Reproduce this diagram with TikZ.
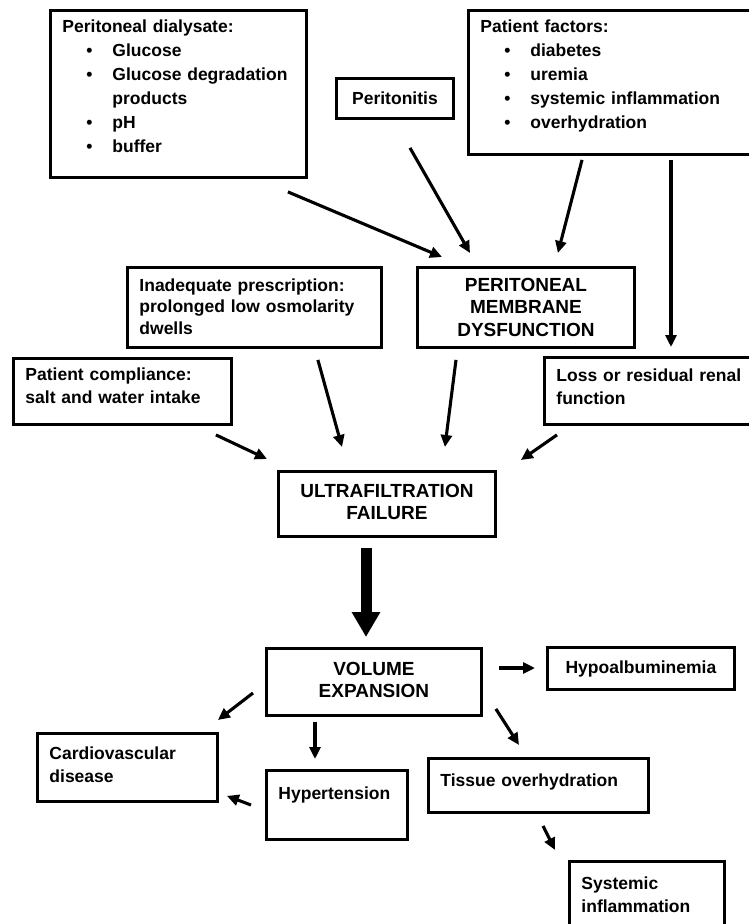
\documentclass[tikz,border=0pt]{standalone}
\usepackage{fontspec}
\usepackage{tikz}
\usetikzlibrary{arrows.meta}
\setmainfont{Liberation Sans}
\newcommand{\lowfont}{\fontsize{17.5}{23}\selectfont\bfseries}
\newcommand{\listfont}{\fontsize{17.5}{24}\selectfont\bfseries}
\newcommand{\capfont}{\fontsize{19}{22.5}\selectfont\bfseries}
\newcommand{\itm}[1]{\hspace*{24pt}\makebox[26pt][l]{\textbullet}#1}

\tikzset{
    box/.style={draw, line width=2.9pt, anchor=north west, inner xsep=12pt, inner ysep=0pt, align=left, font=\lowfont},
    capbox/.style={box, align=center, font=\capfont},
    dims/.style n args={3}{text width=#1, text height=#2, text depth=#3},
    arr/.style={-{Triangle[length=12pt,width=11pt]}, line width=3.1pt},
    bigarr/.style={-{Triangle[length=25pt,width=27pt]}, line width=11pt}
}

\begin{document}
\begin{tikzpicture}[x=1pt,y=-1pt]
    \useasboundingbox (0,0) rectangle (749,924);
    \clip (0,0) rectangle (749,924);

    % Causes
    \node[box, font=\listfont, dims={232pt}{22pt}{145pt}] (dia) at (49,9)
        {Peritoneal dialysate:\\ \itm{Glucose}\\ \itm{Glucose degradation}\\ \hspace*{50pt}products\\ \itm{pH}\\ \itm{buffer}};
    \node[box, align=center, dims={93pt}{26pt}{14pt}] (peri) at (335,77) {Peritonitis};
    \node[box, font=\listfont, dims={276pt}{22pt}{122pt}] (fac) at (467,9)
        {Patient factors:\\ \itm{diabetes}\\ \itm{uremia}\\ \itm{systemic inflammation}\\ \itm{overhydration}};
    \node[box, font=\fontsize{17.5}{21.5}\selectfont\bfseries, dims={230pt}{24pt}{56pt}] (inad) at (126,266)
        {Inadequate prescription:\\ prolonged low osmolarity\\ dwells};
    \node[capbox, dims={193pt}{24pt}{56pt}] (mem) at (416,266) {PERITONEAL\\ MEMBRANE\\ DYSFUNCTION};
    \node[box, dims={194pt}{22pt}{44pt}] (comp) at (12,357) {Patient compliance:\\ salt and water intake};
    \node[box, dims={196pt}{24pt}{43pt}] (loss) at (543,356) {Loss or residual renal\\ function};

    % Central chain
    \node[capbox, dims={193pt}{26pt}{39pt}] (ultra) at (277,470) {ULTRAFILTRATION\\ FAILURE};
    \node[capbox, dims={191pt}{27pt}{40pt}] (vol) at (265,647) {VOLUME\\ EXPANSION};

    % Consequences
    \node[box, align=center, dims={163pt}{26pt}{16pt}] (hypo) at (546,646) {Hypoalbuminemia};
    \node[box, dims={156pt}{26pt}{42pt}] (cardio) at (36,732) {Cardiovascular\\ disease};
    \node[box, dims={117pt}{29pt}{40pt}] (hyper) at (265,769) {Hypertension};
    \node[box, dims={196pt}{28pt}{26pt}] (tissue) at (427,757) {Tissue overhydration};
    \node[box, dims={131pt}{28pt}{62pt}] (sys) at (568,860) {Systemic\\ inflammation};

    % Arrows into the membrane
    \draw[arr] ([shift={(-20,13)}]dia.south east) -- ([shift={(26,-9)}]mem.north west);
    \draw[arr] ([shift={(75,28)}]peri.south west) -- ([shift={(54,-13)}]mem.north west);
    \draw[arr] ([shift={(115,4)}]fac.south west) -- ([shift={(-78,-13)}]mem.north east);
    \draw[arr] ([shift={(204,4)}]fac.south west) -- ([shift={(128,-9)}]loss.north west);

    % Arrows into ultrafiltration failure
    \draw[arr] ([shift={(-17,9)}]comp.south east) -- ([shift={(-10,-11)}]ultra.north west);
    \draw[arr] ([shift={(-65,11)}]inad.south east) -- ([shift={(65,-23)}]ultra.north west);
    \draw[arr] ([shift={(40,11)}]mem.south west) -- ([shift={(-52,-23)}]ultra.north east);
    \draw[arr] ([shift={(14,9)}]loss.south west) -- ([shift={(24,-10)}]ultra.north east);
    \draw[bigarr] ([shift={(89,10)}]ultra.south west) -- ([shift={(101,-10)}]vol.north west);

    % Arrows out of volume expansion
    \draw[arr] ([shift={(16,21)}]vol.north east) -- ([shift={(-11,22)}]hypo.north west);
    \draw[arr] ([shift={(-12,46)}]vol.north west) -- ([shift={(-1,-12)}]cardio.north east);
    \draw[arr] ([shift={(50,5)}]vol.south west) -- ([shift={(50,-10)}]hyper.north west);
    \draw[arr] ([shift={(-14,36)}]hyper.north west) -- ([shift={(8,-7)}]cardio.south east);
    \draw[arr] ([shift={(13,-8)}]vol.south east) -- ([shift={(92,-12)}]tissue.north west);
    \draw[arr] ([shift={(116,12)}]tissue.south west) -- ([shift={(-13,-10)}]sys.north west);
\end{tikzpicture}
\end{document}
